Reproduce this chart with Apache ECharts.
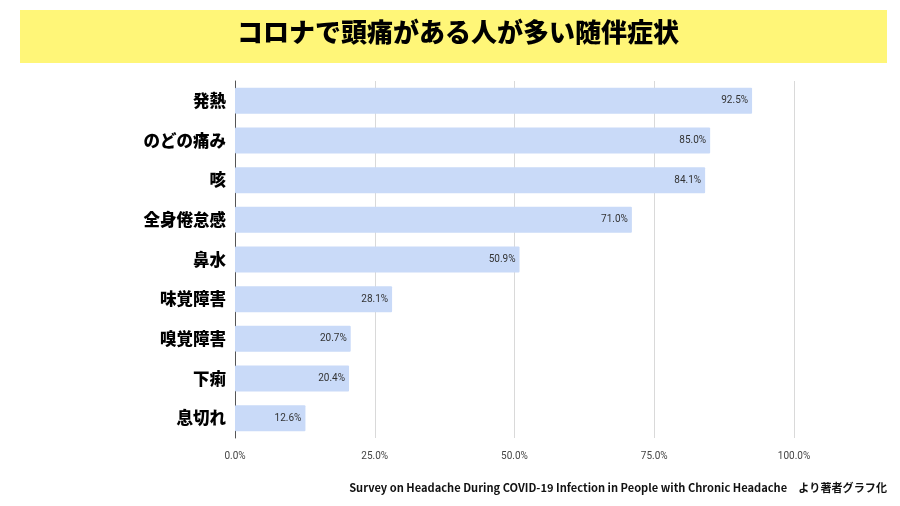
<!DOCTYPE html>
<html>
<head>
<meta charset="utf-8">
<script src="https://cdn.jsdelivr.net/npm/echarts@6/dist/echarts.min.js"></script>
<style>
 html, body { margin: 0; padding: 0; background: #fff; }
 #chart { width: 900px; height: 506px; }
</style>
</head>
<body>
<div id="chart"></div>
<script>
// 症状と割合 (%)
var categories = ['発熱', 'のどの痛み', '咳', '全身倦怠感', '鼻水', '味覚障害', '嗅覚障害', '下痢', '息切れ'];
var values = [92.5, 85.0, 84.1, 71.0, 50.9, 28.1, 20.7, 20.4, 12.6];
var xTicks = [0, 25, 50, 75, 100];

var chart = echarts.init(document.getElementById('chart'));

var option = {
  backgroundColor: '#fff',
  graphic: [
    {
      type: 'rect',
      shape: { x: 20, y: 10, width: 867, height: 53 },
      style: { fill: '#fff678' },
      z: 0
    },
    {
      type: 'text',
      left: 237,
      top: 19,
      style: {
        text: 'コロナで頭痛がある人が多い随伴症状',
        font: '900 26px "Noto Sans CJK JP"',
        fill: '#000'
      },
      z: 1
    },
    {
      type: 'text',
      right: 13,
      top: 482,
      style: {
        text: 'Survey on Headache During COVID-19 Infection in People with Chronic Headache\u3000より著者グラフ化',
        font: 'bold 11.1px "Noto Sans CJK JP"',
        fill: '#111'
      }
    }
  ],
  grid: { left: 235, width: 559, top: 81, height: 357, containLabel: false },
  xAxis: {
    type: 'value',
    min: 0,
    max: 100,
    interval: 25,
    axisLine: { show: false },
    axisTick: { show: false },
    splitLine: { show: true, lineStyle: { color: '#d9d9d9', width: 1 } },
    axisLabel: {
      margin: 13,
      color: '#444',
      fontSize: 10,
      fontFamily: 'Roboto',
      formatter: function (v) { return xTicks.indexOf(v) >= 0 ? v.toFixed(1) + '%' : ''; }
    }
  },
  yAxis: {
    type: 'category',
    inverse: true,
    data: categories,
    axisLine: { show: true, lineStyle: { color: '#555', width: 1 } },
    axisTick: { show: false },
    axisLabel: {
      margin: 9,
      color: '#000',
      fontSize: 16.5,
      fontWeight: 900,
      fontFamily: 'Noto Sans CJK JP'
    }
  },
  series: [
    {
      type: 'bar',
      data: values,
      barWidth: 26,
      z: 3,
      itemStyle: { color: '#c9daf8', borderRadius: 1 },
      label: {
        show: true,
        position: 'insideRight',
        distance: 4,
        color: '#333',
        fontSize: 10,
        fontFamily: 'Roboto',
        formatter: function (p) { return p.value.toFixed(1) + '%'; }
      }
    }
  ]
};

chart.setOption(option);
</script>
</body>
</html>
